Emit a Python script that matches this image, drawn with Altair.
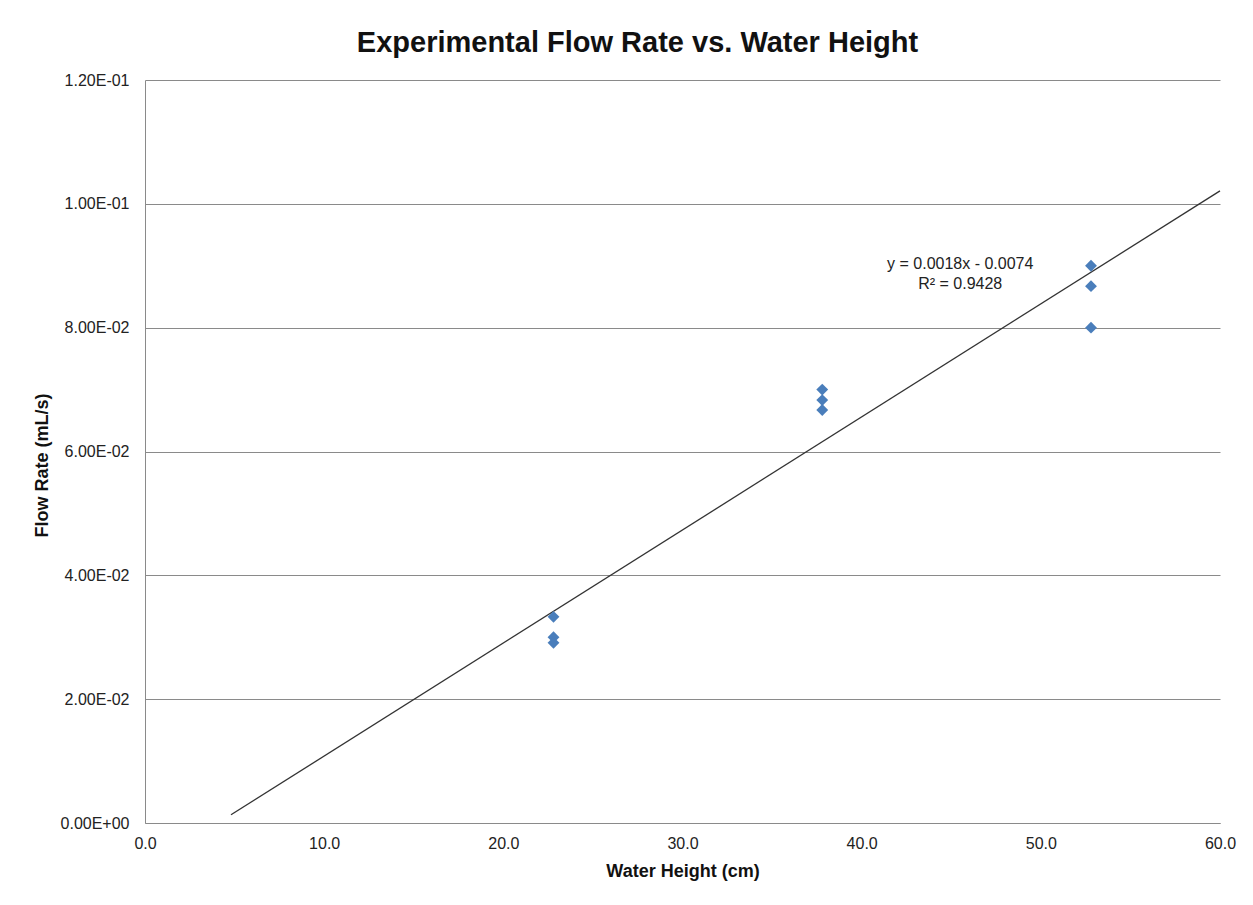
import altair as alt
import pandas as pd

# Data
heights = [22.8, 22.8, 22.8, 37.8, 37.8, 37.8, 52.8, 52.8, 52.8]
flow_rates = [0.0333, 0.0300, 0.0291, 0.0700, 0.0683, 0.0667, 0.0900, 0.0867, 0.0800]

y_ticks = [0.0, 0.02, 0.04, 0.06, 0.08, 0.10, 0.12]
x_ticks = [0, 10, 20, 30, 40, 50, 60]

trend_extent = [4.8, 60]

annot_text = ["y = 0.0018x - 0.0074", "R\u00b2 = 0.9428"]
annot_x = [45.5, 45.5]
annot_y = [0.0903, 0.0871]

df = pd.DataFrame({"height": heights, "flow": flow_rates})
ann = pd.DataFrame({"t": annot_text, "x": annot_x, "y": annot_y})

FONT = "Liberation Sans"
GRID = "#8a8a8a"

x_scale = alt.Scale(domain=[0, 60], nice=False, zero=False)
y_scale = alt.Scale(domain=[0, 0.12], nice=False)

y_label_expr = (
    "datum.value == 0 ? '0.00E+00' : "
    "(datum.value >= 0.0999 ? format(datum.value*10, '.2f') + 'E-01' : "
    "format(datum.value*100, '.2f') + 'E-02')"
)

x_axis = alt.Axis(
    title="Water Height (cm)", values=x_ticks, format=".1f", grid=False,
    ticks=False, labelPadding=12, titlePadding=11, labelFlush=False,
    domainColor=GRID, labelFont=FONT, labelFontSize=16, labelColor="#222222",
    titleFont=FONT, titleFontSize=18, titleFontWeight="bold", titleColor="#111111",
)
y_axis = alt.Axis(
    title="Flow Rate (mL/s)", values=y_ticks, labelExpr=y_label_expr,
    grid=True, gridColor=GRID, gridWidth=1, ticks=False, labelPadding=16,
    labelFlush=False, titlePadding=9, titleY=385, domainColor=GRID,
    labelFont=FONT, labelFontSize=16,
    labelColor="#222222", titleFont=FONT, titleFontSize=18,
    titleFontWeight="bold", titleColor="#111111",
)

base = alt.Chart(df)

points = base.mark_point(
    shape="diamond", filled=True, size=140, color="#4a7ebb", opacity=1
).encode(
    x=alt.X("height:Q", scale=x_scale, axis=x_axis),
    y=alt.Y("flow:Q", scale=y_scale, axis=y_axis),
)

trend = base.transform_regression(
    "height", "flow", extent=trend_extent
).mark_line(color="#333333", strokeWidth=1.3).encode(
    x=alt.X("height:Q", scale=x_scale),
    y=alt.Y("flow:Q", scale=y_scale),
)

labels = alt.Chart(ann).mark_text(
    font=FONT, fontSize=16, color="#222222", align="center", baseline="middle"
).encode(
    x=alt.X("x:Q", scale=x_scale),
    y=alt.Y("y:Q", scale=y_scale),
    text="t:N",
)

chart = alt.layer(trend, points, labels).properties(
    width=1075,
    height=743,
    autosize=alt.AutoSizeParams(type="none"),
    padding={"left": 137, "top": 72, "right": 20, "bottom": 60},
    title=alt.TitleParams(
        "Experimental Flow Rate vs. Water Height",
        font=FONT, fontSize=29, fontWeight="bold", color="#111111",
        anchor="middle", dx=-45, offset=14,
    ),
).configure_view(stroke=None)

chart.save("out.html", embed_options={"renderer": "svg", "actions": False})
